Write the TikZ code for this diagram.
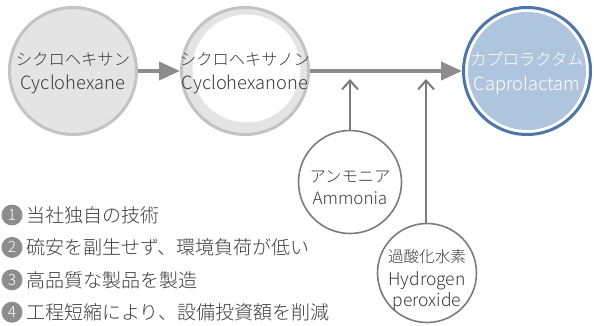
\documentclass[tikz,border=0pt]{standalone}
\usepackage{fontspec}
\IfFontExistsTF{Noto Sans CJK JP Light}
  {\setmainfont{Noto Sans CJK JP Light}}
  {\setmainfont{Noto Sans CJK JP}}
\usetikzlibrary{arrows.meta}
\definecolor{ringgray}{HTML}{C3C3C5}
\definecolor{fillgray}{HTML}{E4E4E5}
\definecolor{bandgray}{HTML}{E4E4E5}
\definecolor{flowgray}{HTML}{8D8D8F}
\definecolor{feedgray}{HTML}{7B7B7B}
\definecolor{capblue}{HTML}{4E76A7}
\definecolor{capfill}{HTML}{AFC5DD}
\definecolor{txtgray}{HTML}{3C3C3C}

\begin{document}
\begin{tikzpicture}[x=1pt, y=-1pt, text=txtgray,
  stage/.style={circle, minimum size=127pt, inner sep=0pt, line width=3pt, draw=ringgray},
  feed/.style={circle, inner sep=0pt, line width=1.6pt, draw=feedgray, fill=white},
  jp/.style={anchor=base, inner sep=0pt, font=\fontsize{16.3}{16}\selectfont},
  en/.style={anchor=base, inner sep=0pt, font=\fontsize{18.3}{18}\selectfont},
  flow/.style={line width=4pt, flowgray, -{Triangle[length=21pt, width=18pt]}},
  feedin/.style={line width=2pt, feedgray, -{Straight Barb[length=9pt, width=16pt]}},
  badge/.style={circle, fill=flowgray, text=white, minimum size=21pt,
    inner sep=0pt, font=\fontsize{15.5}{15}\selectfont},
  item/.style={anchor=west, inner sep=0pt, font=\fontsize{19}{19}\selectfont}]
  \useasboundingbox (0,0) rectangle (594,326);

  % main line
  \node[stage, fill=fillgray] (hexane) at (73,71) {};
  \node[stage, fill=bandgray,
    path picture={\fill[white] ([shift={(1.5pt,2.5pt)}]path picture bounding box.center) circle (54pt);}]
    (hexanone) at (245,71) {};
  \node[stage, draw=capblue, fill=white,
    path picture={\fill[capfill] (path picture bounding box.center) circle (59pt);}]
    (cap) at (527,71) {};

  \node[jp] (hexanejp) at ([yshift=5pt]hexane.center) {シクロヘキサン};
  \node[en] (hexaneen) at ([yshift=-19pt]hexane.center) {Cyclohexane};
  \node[jp] (hexanonejp) at ([yshift=5pt]hexanone.center) {シクロヘキサノン};
  \node[en] (hexanoneen) at ([yshift=-19pt]hexanone.center) {Cyclohexanone};
  \node[jp, text=white] (capjp) at ([yshift=5pt]cap.center) {カプロラクタム};
  \node[en, text=white] (capen) at ([yshift=-20pt]cap.center) {Caprolactam};

  \draw[flow] (hexane) -- (hexanone);
  \draw[flow] (hexanone) -- (cap);

  % feeds
  \node[feed, minimum size=103pt] (amm) at (350,182) {};
  \node[jp] (ammjp) at (amm.center) {アンモニア};
  \node[en, font=\fontsize{17}{17}\selectfont] (ammen) at ([yshift=-22pt]amm.center) {Ammonia};
  \node[feed, minimum size=99pt] (hpo) at (427,273) {};
  \node[jp, font=\fontsize{15.6}{16}\selectfont] (hpojp) at ([yshift=11pt]hpo.center) {過酸化水素};
  \node[en, font=\fontsize{17.5}{17}\selectfont] (hpoen) at ([yshift=-12pt]hpo.center) {Hydrogen};
  \node[en, font=\fontsize{17.5}{17}\selectfont] (hpoen2) at ([yshift=-33pt]hpo.center) {peroxide};

  \coordinate (ammin) at (350,79);
  \coordinate (hpoin) at (426,79);
  \draw[feedin] (amm) -- (ammin);
  \draw[feedin] (hpo.north -| hpoin) -- (hpoin);

  % points
  \foreach \n/\t in {1/当社独自の技術, 2/硫安を副生せず、環境負荷が低い,
                     3/高品質な製品を製造, 4/工程短縮により、設備投資額を削減} {
    \node[badge] (b\n) at (12,{215+(\n-1)*32.4}) {\n};
    \node[item] (p\n) at (26,{215+(\n-1)*32.4}) {\t};
  }
\end{tikzpicture}
\end{document}
